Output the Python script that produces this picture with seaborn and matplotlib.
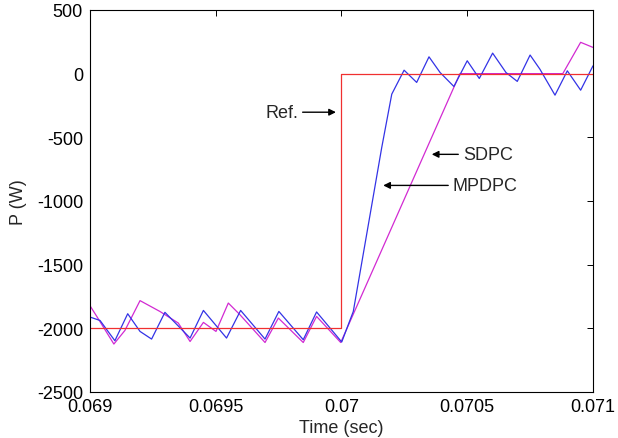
import matplotlib
matplotlib.use("Agg")
import matplotlib.pyplot as plt
import seaborn as sns
import pandas as pd

# ---- data ----
ref_t = [0.069, 0.0700, 0.0700, 0.071]
ref_p = [-2000, -2000, 0, 0]

mpdpc_t = [0.069000, 0.069040, 0.069099, 0.069150, 0.069199, 0.069245, 0.069298,
           0.069398, 0.069451, 0.069543, 0.069599, 0.069696, 0.069751, 0.069848,
           0.069901, 0.070001, 0.070047, 0.070160, 0.070200, 0.070249, 0.070299,
           0.070348, 0.070392, 0.070447, 0.070500, 0.070548, 0.070601, 0.070654,
           0.070699, 0.070750, 0.070789, 0.070849, 0.070898, 0.070951, 0.071000]
mpdpc_p = [-1912, -1939, -2098, -1886, -2025, -2085, -1875,
           -2077, -1860, -2077, -1860, -2085, -1868, -2090,
           -1872, -2108, -1868, -581, -161, 27, -69,
           132, 9, -101, 101, -38, 161, 9,
           -61, 146, 35, -169, 22, -130, 61]

sdpc_t = [0.069000, 0.069027, 0.069095, 0.069139, 0.069199, 0.069278, 0.069351,
          0.069398, 0.069451, 0.069501, 0.069550, 0.069596, 0.069696, 0.069749,
          0.069848, 0.069901, 0.069997, 0.070471, 0.070880, 0.070951, 0.071000]
sdpc_p = [-1823, -1907, -2124, -2017, -1783, -1868, -1959,
          -2104, -1954, -2025, -1802, -1893, -2112, -1920,
          -2112, -1907, -2112, 0, 0, 246, 206]

x_ticks = [0.069, 0.0695, 0.070, 0.0705, 0.071]
x_tick_labels = ["0.069", "0.0695", "0.07", "0.0705", "0.071"]
y_ticks = [-2500, -2000, -1500, -1000, -500, 0, 500]

sns.set_style("white")
plt.rcParams['font.family'] = ['Liberation Sans', 'DejaVu Sans']
plt.rcParams['axes.unicode_minus'] = False

fig = plt.figure(figsize=(6.18, 4.39), dpi=100)
ax = fig.add_axes([0.1456, 0.105, 0.9595 - 0.1456, 0.975 - 0.105])

df_s = pd.DataFrame({"t": sdpc_t, "p": sdpc_p})
df_m = pd.DataFrame({"t": mpdpc_t, "p": mpdpc_p})
df_r = pd.DataFrame({"t": ref_t, "p": ref_p})

sns.lineplot(data=df_s, x="t", y="p", ax=ax, color="#d22ad2", lw=0.9,
             estimator=None, sort=False)
sns.lineplot(data=df_m, x="t", y="p", ax=ax, color="#3333e6", lw=0.9,
             estimator=None, sort=False)
sns.lineplot(data=df_r, x="t", y="p", ax=ax, color="#f03030", lw=0.9,
             estimator=None, sort=False)

ax.set_xlim(0.069, 0.071)
ax.set_ylim(-2500, 500)
ax.set_xticks(x_ticks)
ax.set_xticklabels(x_tick_labels)
ax.set_yticks(y_ticks)
ax.tick_params(direction="in", length=4, width=0.7, top=True, right=True,
               labelsize=13, colors="black", pad=4.5)
ax.tick_params(axis="y", pad=5)
for s in ax.spines.values():
    s.set_color("black")
    s.set_linewidth(0.8)
    s.set_visible(True)

ax.set_xlabel("Time (sec)", fontsize=13, labelpad=3)
ax.set_ylabel("P (W)", fontsize=13, labelpad=7)

arrow = dict(arrowstyle="-|>", color="black", lw=1.0, shrinkA=1, shrinkB=0,
             mutation_scale=10)
ax.annotate("Ref.", xy=(0.069978, -303), xytext=(0.069827, -303),
            ha="right", va="center", fontsize=13, arrowprops=arrow)
ax.annotate("SDPC", xy=(0.070359, -634), xytext=(0.070483, -634),
            ha="left", va="center", fontsize=13, arrowprops=arrow)
ax.annotate("MPDPC", xy=(0.070166, -878), xytext=(0.070443, -878),
            ha="left", va="center", fontsize=13, arrowprops=arrow)

fig.savefig("out.png", dpi=100)
